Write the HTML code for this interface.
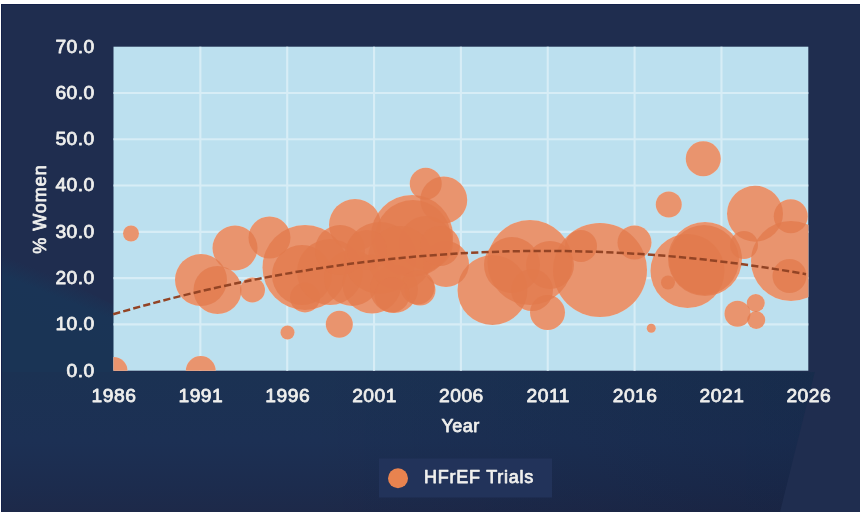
<!DOCTYPE html>
<html lang="en"><head><meta charset="utf-8"><title>HFrEF Trials - % Women by Year</title>
<style>
html,body{margin:0;padding:0;background:#fff;}
body{width:860px;height:512px;overflow:hidden;}
svg{display:block;}
</style></head><body>
<svg width="860" height="512" viewBox="0 0 860 512">
<defs>
<clipPath id="pc"><rect x="113.50" y="46.70" width="694.80" height="324.00"/></clipPath>
<linearGradient id="bgv" gradientUnits="userSpaceOnUse" x1="0" y1="372" x2="0" y2="512">
<stop offset="0" stop-color="#1b3253"/><stop offset="0.5" stop-color="#1c3054"/><stop offset="0.8" stop-color="#1c2c4e"/><stop offset="1" stop-color="#1d2949"/>
</linearGradient>
<linearGradient id="bgh" gradientUnits="userSpaceOnUse" x1="300" y1="0" x2="800" y2="0">
<stop offset="0" stop-color="#000820" stop-opacity="0"/><stop offset="1" stop-color="#000820" stop-opacity="0.14"/>
</linearGradient>
<linearGradient id="bgl" gradientUnits="userSpaceOnUse" x1="40" y1="270" x2="20" y2="320">
<stop offset="0" stop-color="#1f2d4f"/><stop offset="0.35" stop-color="#1a3456"/><stop offset="1" stop-color="#1a3455"/>
</linearGradient>
</defs>
<rect x="0" y="0" width="860" height="512" fill="#ffffff"/>
<rect x="1" y="4" width="859" height="508" fill="#14214a"/>
<rect x="2" y="5" width="858" height="507" fill="#1f2d4f"/>
<polygon points="2,250 114,305 114,373 2,373" fill="url(#bgl)"/>
<rect x="2" y="372" width="814" height="140" fill="url(#bgv)"/>
<rect x="300" y="372" width="516" height="140" fill="url(#bgh)"/>
<polygon points="815,371 860,371 860,512 780,512" fill="#1f2d4f"/>
<rect x="379" y="458.5" width="173" height="39" fill="#22335a"/>
<rect x="113.50" y="46.70" width="694.80" height="324.00" fill="#bce0ef"/>
<line x1="200.35" y1="46.70" x2="200.35" y2="370.70" stroke="#d7edf6" stroke-width="2.1"/>
<line x1="287.20" y1="46.70" x2="287.20" y2="370.70" stroke="#d7edf6" stroke-width="2.1"/>
<line x1="374.05" y1="46.70" x2="374.05" y2="370.70" stroke="#d7edf6" stroke-width="2.1"/>
<line x1="460.90" y1="46.70" x2="460.90" y2="370.70" stroke="#d7edf6" stroke-width="2.1"/>
<line x1="547.75" y1="46.70" x2="547.75" y2="370.70" stroke="#d7edf6" stroke-width="2.1"/>
<line x1="634.60" y1="46.70" x2="634.60" y2="370.70" stroke="#d7edf6" stroke-width="2.1"/>
<line x1="721.45" y1="46.70" x2="721.45" y2="370.70" stroke="#d7edf6" stroke-width="2.1"/>
<line x1="113.50" y1="324.41" x2="808.30" y2="324.41" stroke="#d7edf6" stroke-width="2.1"/>
<line x1="113.50" y1="278.13" x2="808.30" y2="278.13" stroke="#d7edf6" stroke-width="2.1"/>
<line x1="113.50" y1="231.84" x2="808.30" y2="231.84" stroke="#d7edf6" stroke-width="2.1"/>
<line x1="113.50" y1="185.56" x2="808.30" y2="185.56" stroke="#d7edf6" stroke-width="2.1"/>
<line x1="113.50" y1="139.27" x2="808.30" y2="139.27" stroke="#d7edf6" stroke-width="2.1"/>
<line x1="113.50" y1="92.99" x2="808.30" y2="92.99" stroke="#d7edf6" stroke-width="2.1"/>
<g clip-path="url(#pc)" fill="#fde2d4">
<circle cx="131.00" cy="233.50" r="8.00"/>
<circle cx="201.00" cy="280.00" r="26.00"/>
<circle cx="217.50" cy="290.00" r="24.00"/>
<circle cx="235.00" cy="248.00" r="22.50"/>
<circle cx="252.50" cy="290.00" r="12.50"/>
<circle cx="269.50" cy="237.50" r="21.00"/>
<circle cx="305.00" cy="267.50" r="42.50"/>
<circle cx="305.00" cy="297.50" r="15.00"/>
<circle cx="355.00" cy="225.00" r="26.00"/>
<circle cx="339.30" cy="324.30" r="13.50"/>
<circle cx="287.50" cy="332.50" r="7.00"/>
<circle cx="425.75" cy="183.75" r="16.00"/>
<circle cx="443.75" cy="200.00" r="23.50"/>
<circle cx="412.00" cy="236.00" r="41.00"/>
<circle cx="426.00" cy="243.00" r="27.00"/>
<circle cx="413.00" cy="238.00" r="38.00"/>
<circle cx="302.00" cy="275.00" r="30.00"/>
<circle cx="330.00" cy="272.00" r="33.00"/>
<circle cx="352.00" cy="278.00" r="28.00"/>
<circle cx="372.00" cy="284.00" r="29.50"/>
<circle cx="380.00" cy="258.00" r="36.00"/>
<circle cx="394.00" cy="289.00" r="24.00"/>
<circle cx="400.00" cy="258.00" r="32.00"/>
<circle cx="420.00" cy="290.00" r="15.50"/>
<circle cx="340.00" cy="250.00" r="25.00"/>
<circle cx="492.50" cy="290.00" r="35.00"/>
<circle cx="512.00" cy="265.00" r="28.00"/>
<circle cx="550.00" cy="265.00" r="24.00"/>
<circle cx="532.00" cy="290.00" r="21.00"/>
<circle cx="367.00" cy="250.00" r="20.00"/>
<circle cx="704.00" cy="260.00" r="35.00"/>
<circle cx="530.00" cy="262.50" r="42.50"/>
<circle cx="547.50" cy="312.50" r="17.50"/>
<circle cx="446.00" cy="264.00" r="23.00"/>
<circle cx="440.00" cy="246.00" r="20.00"/>
<circle cx="417.50" cy="287.50" r="17.00"/>
<circle cx="392.00" cy="295.00" r="17.50"/>
<circle cx="600.00" cy="270.00" r="47.00"/>
<circle cx="581.00" cy="246.00" r="16.00"/>
<circle cx="634.50" cy="242.50" r="17.00"/>
<circle cx="668.75" cy="204.50" r="13.00"/>
<circle cx="705.00" cy="259.00" r="37.00"/>
<circle cx="687.50" cy="271.00" r="37.00"/>
<circle cx="668.00" cy="282.50" r="7.00"/>
<circle cx="744.00" cy="245.00" r="14.00"/>
<circle cx="703.25" cy="158.75" r="17.50"/>
<circle cx="755.00" cy="213.75" r="28.00"/>
<circle cx="790.75" cy="216.25" r="17.00"/>
<circle cx="791.00" cy="261.00" r="40.00"/>
<circle cx="789.50" cy="276.00" r="17.00"/>
<circle cx="737.50" cy="313.75" r="13.00"/>
<circle cx="755.75" cy="303.00" r="9.00"/>
<circle cx="756.25" cy="320.00" r="9.00"/>
<circle cx="651.25" cy="328.25" r="4.50"/>
<circle cx="113.50" cy="371.00" r="14.00"/>
<circle cx="200.75" cy="371.00" r="15.00"/>
</g>
<g clip-path="url(#pc)" fill="#e17a4c" fill-opacity="0.75">
<circle cx="131.00" cy="233.50" r="8.00"/>
<circle cx="201.00" cy="280.00" r="26.00"/>
<circle cx="217.50" cy="290.00" r="24.00"/>
<circle cx="235.00" cy="248.00" r="22.50"/>
<circle cx="252.50" cy="290.00" r="12.50"/>
<circle cx="269.50" cy="237.50" r="21.00"/>
<circle cx="305.00" cy="267.50" r="42.50"/>
<circle cx="305.00" cy="297.50" r="15.00"/>
<circle cx="355.00" cy="225.00" r="26.00"/>
<circle cx="339.30" cy="324.30" r="13.50"/>
<circle cx="287.50" cy="332.50" r="7.00"/>
<circle cx="425.75" cy="183.75" r="16.00"/>
<circle cx="443.75" cy="200.00" r="23.50"/>
<circle cx="412.00" cy="236.00" r="41.00"/>
<circle cx="426.00" cy="243.00" r="27.00"/>
<circle cx="413.00" cy="238.00" r="38.00"/>
<circle cx="302.00" cy="275.00" r="30.00"/>
<circle cx="330.00" cy="272.00" r="33.00"/>
<circle cx="352.00" cy="278.00" r="28.00"/>
<circle cx="372.00" cy="284.00" r="29.50"/>
<circle cx="380.00" cy="258.00" r="36.00"/>
<circle cx="394.00" cy="289.00" r="24.00"/>
<circle cx="400.00" cy="258.00" r="32.00"/>
<circle cx="420.00" cy="290.00" r="15.50"/>
<circle cx="340.00" cy="250.00" r="25.00"/>
<circle cx="492.50" cy="290.00" r="35.00"/>
<circle cx="512.00" cy="265.00" r="28.00"/>
<circle cx="550.00" cy="265.00" r="24.00"/>
<circle cx="532.00" cy="290.00" r="21.00"/>
<circle cx="367.00" cy="250.00" r="20.00"/>
<circle cx="704.00" cy="260.00" r="35.00"/>
<circle cx="530.00" cy="262.50" r="42.50"/>
<circle cx="547.50" cy="312.50" r="17.50"/>
<circle cx="446.00" cy="264.00" r="23.00"/>
<circle cx="440.00" cy="246.00" r="20.00"/>
<circle cx="417.50" cy="287.50" r="17.00"/>
<circle cx="392.00" cy="295.00" r="17.50"/>
<circle cx="600.00" cy="270.00" r="47.00"/>
<circle cx="581.00" cy="246.00" r="16.00"/>
<circle cx="634.50" cy="242.50" r="17.00"/>
<circle cx="668.75" cy="204.50" r="13.00"/>
<circle cx="705.00" cy="259.00" r="37.00"/>
<circle cx="687.50" cy="271.00" r="37.00"/>
<circle cx="668.00" cy="282.50" r="7.00"/>
<circle cx="744.00" cy="245.00" r="14.00"/>
<circle cx="703.25" cy="158.75" r="17.50"/>
<circle cx="755.00" cy="213.75" r="28.00"/>
<circle cx="790.75" cy="216.25" r="17.00"/>
<circle cx="791.00" cy="261.00" r="40.00"/>
<circle cx="789.50" cy="276.00" r="17.00"/>
<circle cx="737.50" cy="313.75" r="13.00"/>
<circle cx="755.75" cy="303.00" r="9.00"/>
<circle cx="756.25" cy="320.00" r="9.00"/>
<circle cx="651.25" cy="328.25" r="4.50"/>
<circle cx="113.50" cy="371.00" r="14.00"/>
<circle cx="200.75" cy="371.00" r="15.00"/>
</g>
<path d="M113.2 314.3 Q460.5 212.5 806 274.2" fill="none" stroke="#934425" stroke-width="2.5" stroke-dasharray="7.2 3.2"/>
<g font-family="'Liberation Sans', Arial, sans-serif" font-weight="normal" font-size="18" letter-spacing="0.45" fill="#efefed" stroke="#efefed" stroke-width="0.75" stroke-linejoin="round">
<text transform="translate(94.8,376.50) scale(1.07,1)" text-anchor="end">0.0</text>
<text transform="translate(94.8,330.21) scale(1.07,1)" text-anchor="end">10.0</text>
<text transform="translate(94.8,283.93) scale(1.07,1)" text-anchor="end">20.0</text>
<text transform="translate(94.8,237.64) scale(1.07,1)" text-anchor="end">30.0</text>
<text transform="translate(94.8,191.36) scale(1.07,1)" text-anchor="end">40.0</text>
<text transform="translate(94.8,145.07) scale(1.07,1)" text-anchor="end">50.0</text>
<text transform="translate(94.8,98.79) scale(1.07,1)" text-anchor="end">60.0</text>
<text transform="translate(94.8,52.50) scale(1.07,1)" text-anchor="end">70.0</text>
<text transform="translate(114.00,402.3) scale(1.07,1)" text-anchor="middle">1986</text>
<text transform="translate(200.85,402.3) scale(1.07,1)" text-anchor="middle">1991</text>
<text transform="translate(287.70,402.3) scale(1.07,1)" text-anchor="middle">1996</text>
<text transform="translate(374.55,402.3) scale(1.07,1)" text-anchor="middle">2001</text>
<text transform="translate(461.40,402.3) scale(1.07,1)" text-anchor="middle">2006</text>
<text transform="translate(548.25,402.3) scale(1.07,1)" text-anchor="middle">2011</text>
<text transform="translate(635.10,402.3) scale(1.07,1)" text-anchor="middle">2016</text>
<text transform="translate(721.95,402.3) scale(1.07,1)" text-anchor="middle">2021</text>
<text transform="translate(808.80,402.3) scale(1.07,1)" text-anchor="middle">2026</text>
<text x="460.5" y="432" text-anchor="middle">Year</text>
<text transform="translate(46,209) rotate(-90)" text-anchor="middle" letter-spacing="1.0">% Women</text>
<text x="424" y="483.4" letter-spacing="0.75">HFrEF Trials</text>
</g>
<circle cx="398" cy="478.3" r="10" fill="#e8834f"/>
</svg>
</body></html>
